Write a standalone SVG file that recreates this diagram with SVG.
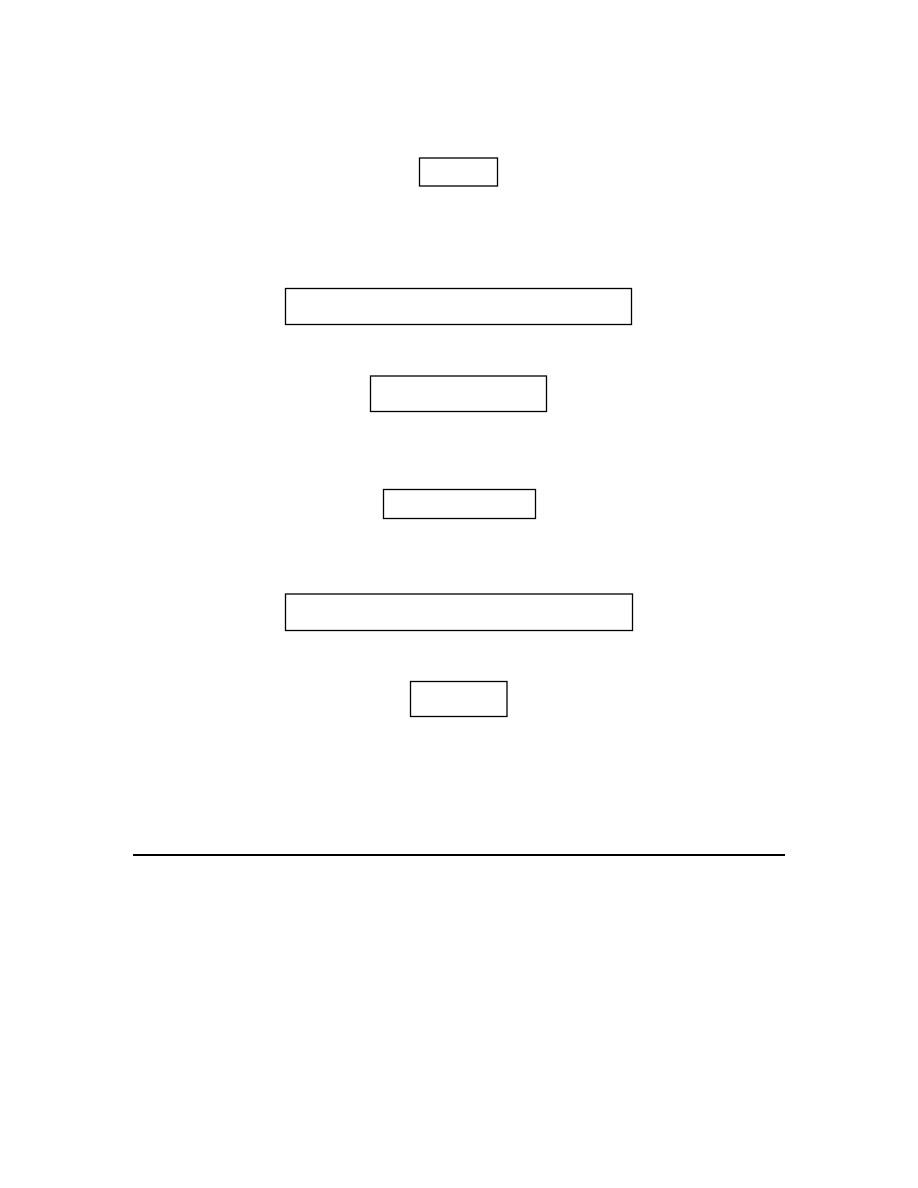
<svg xmlns="http://www.w3.org/2000/svg" width="918" height="1188" viewBox="0 0 918 1188">
<style>
.box{fill:none;stroke:#000;stroke-width:1.3}
.rule{stroke:#000;stroke-width:2}
</style>
<rect x="0" y="0" width="918" height="1188" fill="#fff"/>
<g id="node1"><rect class="box" x="419.5" y="158" width="78" height="28"/></g>
<g id="node2"><rect class="box" x="285.5" y="288.5" width="346" height="36"/></g>
<g id="node3"><rect class="box" x="370.5" y="376" width="176" height="35.5"/></g>
<g id="node4"><rect class="box" x="383.5" y="489.5" width="152" height="29"/></g>
<g id="node5"><rect class="box" x="285.5" y="594" width="347" height="36.5"/></g>
<g id="node6"><rect class="box" x="410.5" y="681.5" width="96.5" height="35"/></g>
<g id="connectors"></g>
<g id="rule"><line class="rule" x1="133" y1="855" x2="785" y2="855"/></g>
</svg>
